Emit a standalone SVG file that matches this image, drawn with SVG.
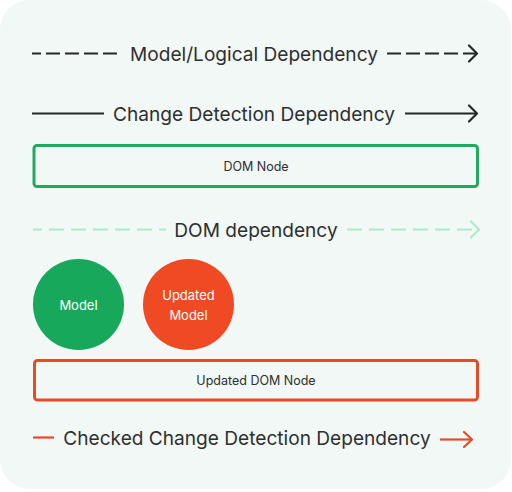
<svg xmlns="http://www.w3.org/2000/svg" width="512" height="492" viewBox="0 0 512 492">
<style>
.lbl{font-family:Inter,"Noto Sans",sans-serif;font-size:19.1px;font-weight:400;fill:#2d2f30;text-anchor:middle}
.sm{font-family:Inter,"Noto Sans",sans-serif;font-size:12.5px;font-weight:400;fill:#2d2f30;text-anchor:middle}
.wt{font-family:Inter,"Noto Sans",sans-serif;font-size:13px;font-weight:400;fill:#ffffff;text-anchor:middle}
.ln{fill:none;stroke-width:2.2;stroke-linecap:butt}
.chev{fill:none;stroke-width:2.2;stroke-linecap:round;stroke-linejoin:round}
</style>
<rect x="0" y="0" width="511" height="489" rx="30" fill="#f2f8f6"/>
<g id="connectors">
  <g id="legend-model-logical">
    <line class="ln" x1="32" y1="53.5" x2="122" y2="53.5" stroke="#262626" stroke-dasharray="14 5" stroke-dashoffset="5"/>
    <line class="ln" x1="387" y1="53.5" x2="476" y2="53.5" stroke="#262626" stroke-dasharray="14 5"/>
    <polyline class="chev" points="469,45.5 477,53.5 469,61.5" stroke="#262626"/>
    <text class="lbl" x="254" y="61">Model/Logical Dependency</text>
  </g>
  <g id="legend-change-detection">
    <line class="ln" x1="32" y1="113.5" x2="104" y2="113.5" stroke="#262626"/>
    <line class="ln" x1="405" y1="113.5" x2="476" y2="113.5" stroke="#262626"/>
    <polyline class="chev" points="469,105.5 477,113.5 469,121.5" stroke="#262626"/>
    <text class="lbl" x="254" y="121">Change Detection Dependency</text>
  </g>
  <g id="legend-dom-dependency">
    <line class="ln" x1="33" y1="229.5" x2="166" y2="229.5" stroke="#aee9c8" stroke-dasharray="15 7" stroke-dashoffset="6"/>
    <line class="ln" x1="347" y1="229.5" x2="477" y2="229.5" stroke="#aee9c8" stroke-dasharray="15 7"/>
    <polyline class="chev" points="471,221.5 479,229.5 471,237.5" stroke="#aee9c8"/>
    <text class="lbl" x="256" y="237">DOM dependency</text>
  </g>
  <g id="legend-checked">
    <line class="ln" x1="33" y1="437.5" x2="54" y2="437.5" stroke="#e84a27"/>
    <line class="ln" x1="440" y1="439.5" x2="472" y2="439.5" stroke="#e84a27"/>
    <polyline class="chev" points="464,432 472,439.5 464,447" stroke="#e84a27"/>
    <text class="lbl" x="247" y="445">Checked Change Detection Dependency</text>
  </g>
</g>
<g id="dom-node">
  <rect x="34" y="145.5" width="443.5" height="41" rx="3" fill="none" stroke="#22a85f" stroke-width="3"/>
  <text class="sm" x="256" y="171">DOM Node</text>
</g>
<g id="model">
  <circle cx="78.5" cy="304.5" r="45.5" fill="#17a85c"/>
  <text class="wt" x="78.5" y="309.5">Model</text>
</g>
<g id="updated-model">
  <circle cx="188.5" cy="304.5" r="45.5" fill="#ef4a24"/>
  <text class="wt" x="188.5" y="300">Updated</text>
  <text class="wt" x="188.5" y="320">Model</text>
</g>
<g id="updated-dom-node">
  <rect x="34.5" y="360.5" width="443" height="39.5" rx="3" fill="none" stroke="#e84a27" stroke-width="3"/>
  <text class="sm" x="256" y="385">Updated DOM Node</text>
</g>
</svg>
